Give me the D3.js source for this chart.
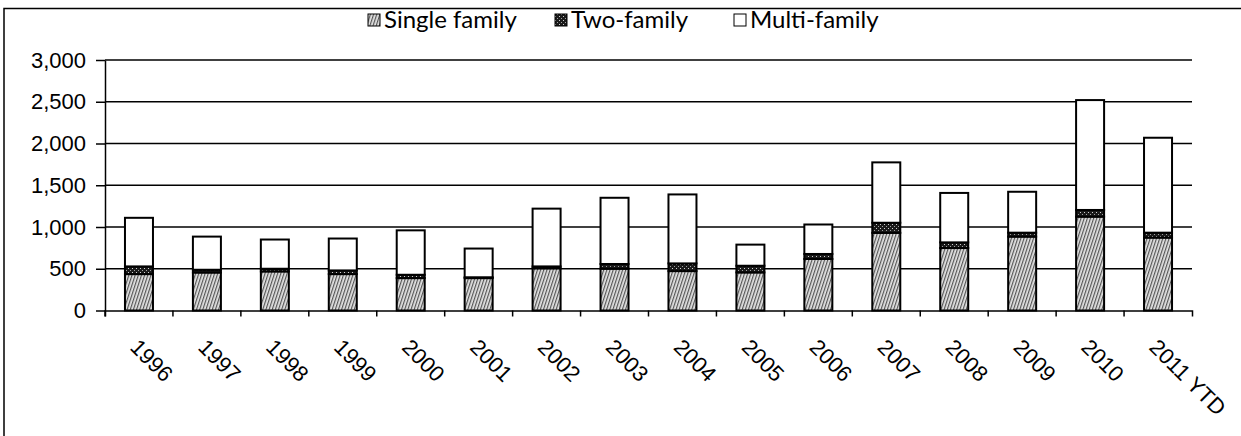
<!DOCTYPE html>
<html>
<head>
<meta charset="utf-8">
<script src="https://cdn.jsdelivr.net/npm/d3@7"></script>
<style>
  body { margin: 0; background: #fff; }
  svg { display: block; font-family: Lato, "Open Sans", sans-serif; }
</style>
</head>
<body>
<div id="chart"></div>
<script>
// data
var years = ["1996", "1997", "1998", "1999", "2000", "2001", "2002", "2003",
             "2004", "2005", "2006", "2007", "2008", "2009", "2010", "2011 YTD"];
var singleFamily = [436, 455, 468, 436, 388, 388, 505, 500, 472, 456, 617, 930, 748, 885, 1124, 873];
var twoFamily = [92, 33, 32, 44, 40, 10, 23, 57, 92, 80, 60, 121, 68, 47, 80, 59];
var multiFamily = [582, 397, 350, 382, 532, 344, 692, 793, 826, 253, 353, 723, 592, 490, 1316, 1137];
var seriesNames = ["Single family", "Two-family", "Multi-family"];
var yTicks = [0, 500, 1000, 1500, 2000, 2500, 3000];

var width = 1241;
var height = 436;
var plotLeft = 105, plotRight = 1192, plotTop = 60, plotBottom = 310.5;

var svg = d3.select("#chart")
    .append("svg")
    .attr("width", width)
    .attr("height", height);

// patterns for the fills
var defs = svg.append("defs");
var hatch = defs.append("pattern")
    .attr("id", "hatch")
    .attr("patternUnits", "userSpaceOnUse")
    .attr("width", 3).attr("height", 6)
    .attr("patternTransform", "rotate(18)");
hatch.append("rect").attr("width", 3).attr("height", 6).attr("fill", "#e4e4e4");
hatch.append("rect").attr("width", 1.2).attr("height", 6).attr("fill", "#555");

var dots = defs.append("pattern")
    .attr("id", "dots")
    .attr("patternUnits", "userSpaceOnUse")
    .attr("width", 4).attr("height", 4);
dots.append("rect").attr("width", 4).attr("height", 4).attr("fill", "#1a1a1a");
dots.append("rect").attr("x", 0).attr("y", 0).attr("width", 1).attr("height", 1).attr("fill", "#d0d0d0");
dots.append("rect").attr("x", 2).attr("y", 2).attr("width", 1).attr("height", 1).attr("fill", "#a0a0a0");

var fills = ["url(#hatch)", "url(#dots)", "#fff"];

// outer frame (left and top edges only)
svg.append("path")
    .attr("d", "M4,436 V8.5 H1241")
    .attr("fill", "none")
    .attr("stroke", "#000")
    .attr("stroke-width", 1.5);

var table = years.map(function (y, i) {
    return { year: y, s0: singleFamily[i], s1: twoFamily[i], s2: multiFamily[i] };
});
var stacked = d3.stack().keys(["s0", "s1", "s2"])(table);

var x = d3.scaleBand().domain(years).range([plotLeft, plotRight]).padding(0);
var y = d3.scaleLinear().domain([0, 3000]).range([plotBottom, plotTop]);
var barW = 28;

// gridlines
svg.append("g")
    .selectAll("line")
    .data(yTicks.slice(1))
    .enter()
    .append("line")
    .attr("x1", plotLeft).attr("x2", plotRight)
    .attr("y1", function (d) { return y(d); })
    .attr("y2", function (d) { return y(d); })
    .attr("stroke", "#000")
    .attr("stroke-width", 1.5);

// y axis
var yAxis = d3.axisLeft(y)
    .tickValues(yTicks)
    .tickSizeInner(9)
    .tickSizeOuter(0)
    .tickPadding(10)
    .tickFormat(d3.format(","));
var gy = svg.append("g")
    .attr("transform", `translate(${plotLeft},0)`)
    .call(yAxis);
gy.select(".domain").attr("stroke", "#000").attr("stroke-width", 1.5);
gy.selectAll(".tick line").attr("stroke", "#000").attr("stroke-width", 1.5);
gy.selectAll("text")
    .attr("font-size", 22)
    .attr("fill", "#000");

// bars
svg.append("g")
    .selectAll("g")
    .data(stacked)
    .enter()
    .append("g")
    .attr("fill", function (d, i) { return fills[i]; })
    .selectAll("rect")
    .data(function (d) { return d; })
    .enter()
    .append("rect")
    .attr("x", function (d) { return x(d.data.year) + x.bandwidth() / 2 - barW / 2; })
    .attr("width", barW)
    .attr("y", function (d) { return y(d[1]); })
    .attr("height", function (d) { return y(d[0]) - y(d[1]); })
    .attr("stroke", "#000")
    .attr("stroke-width", 2);

// x axis
var xAxis = d3.axisBottom(x).tickSizeInner(6).tickSizeOuter(6);
var gx = svg.append("g")
    .attr("transform", `translate(0,${plotBottom})`)
    .call(xAxis);
gx.select(".domain").attr("stroke", "#000").attr("stroke-width", 1.5);
gx.selectAll(".tick line")
    .attr("x1", -x.step() / 2).attr("x2", -x.step() / 2)
    .attr("stroke", "#000").attr("stroke-width", 1.5);
gx.selectAll(".tick text")
    .attr("x", 0).attr("y", 0).attr("dy", 0)
    .attr("text-anchor", "start")
    .attr("transform", "translate(-10,38) rotate(45)")
    .attr("font-size", 22)
    .attr("fill", "#000");

// legend
var legendX = [368, 555, 734];
var legend = svg.append("g").selectAll("g")
    .data(seriesNames)
    .enter()
    .append("g")
    .attr("transform", function (d, i) { return `translate(${legendX[i]},20)`; });
legend.append("rect")
    .attr("x", 0).attr("y", -6)
    .attr("width", 12).attr("height", 12)
    .attr("fill", function (d, i) { return fills[i]; })
    .attr("stroke", "#000")
    .attr("stroke-width", 1);
legend.append("text")
    .attr("x", 16)
    .attr("y", 8)
    .attr("font-size", 24)
    .attr("fill", "#000")
    .text(function (d) { return d; });
</script>
</body>
</html>
